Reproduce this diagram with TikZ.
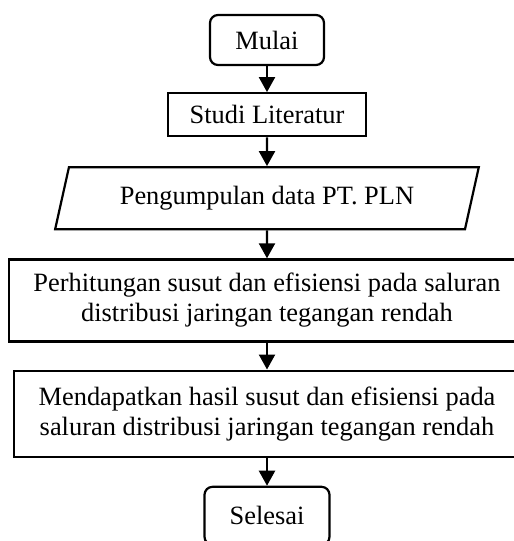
\documentclass[tikz,border=0pt]{standalone}
\usepackage{fontspec}
\setmainfont{Liberation Serif}
\usetikzlibrary{arrows.meta, positioning, shapes.geometric}

\begin{document}
\begin{tikzpicture}[font=\fontsize{13.2}{15}\selectfont, line width=1.1pt,
		term/.style={draw, rounded corners=4pt, minimum height=25pt},
		proc/.style={draw, align=center, inner sep=2pt},
		io/.style={draw, trapezium, trapezium left angle=74, trapezium right angle=106,
		           trapezium stretches=true, minimum width=212pt, minimum height=31pt},
		arr/.style={-{Triangle[width=8pt,length=7.5pt]}}]
		\clip (0,0) rectangle (257pt,-270.5pt);
		\node[term, minimum width=57pt] (mulai) at (133.5pt,-20pt) {Mulai};
		\node[proc, below=13pt of mulai, minimum width=99pt, minimum height=21.5pt] (studi) {Studi Literatur};
		\node[io, below=14.4pt of studi] (data) {Pengumpulan data PT. PLN};
		\node[proc, below=14pt of data, minimum width=258pt, minimum height=41pt] (hitung)
		  {Perhitungan susut dan efisiensi pada saluran\\distribusi jaringan tegangan rendah};
		\node[proc, below=13.5pt of hitung, minimum width=253pt, minimum height=43pt] (hasil)
		  {Mendapatkan hasil susut dan efisiensi pada\\saluran distribusi jaringan tegangan rendah};
		\node[term, below=14pt of hasil, minimum width=62.5pt, minimum height=29pt] (selesai) {Selesai};
		\foreach \a/\b in {mulai/studi, studi/data, data/hitung, hitung/hasil, hasil/selesai}
		  \draw[arr] (\a) -- (\b);
	\end{tikzpicture}
\end{document}
